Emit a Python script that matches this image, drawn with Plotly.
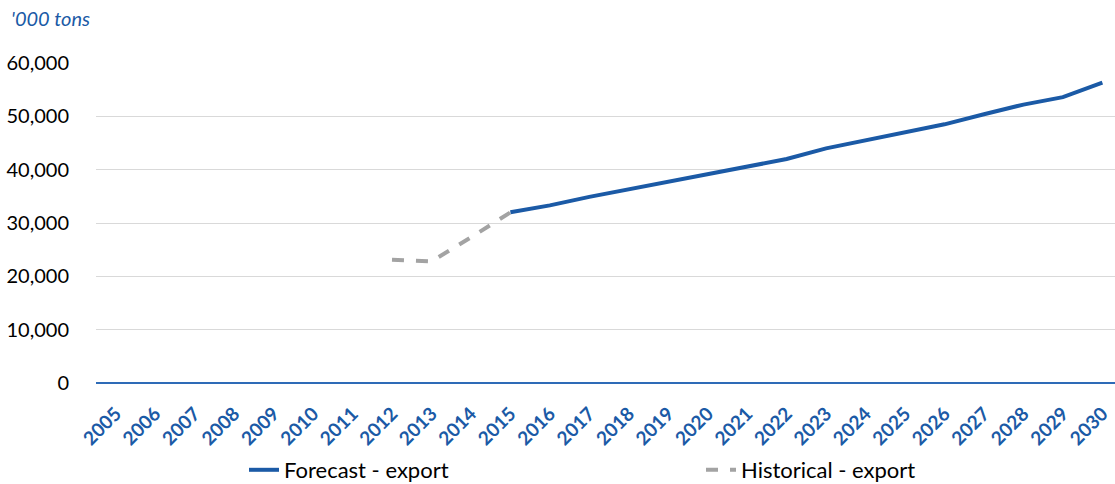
import plotly.graph_objects as go

years = [str(y) for y in range(2005, 2031)]

hist_years = ["2012", "2013", "2014", "2015"]
hist_export = [23100, 22800, 27300, 32000]

fc_years = [str(y) for y in range(2015, 2031)]
fc_export = [32000, 33300, 34900, 36300, 37700, 39100, 40500, 42000, 44000,
             45500, 47000, 48500, 50400, 52200, 53600, 56300]

y_ticks = [0, 10000, 20000, 30000, 40000, 50000, 60000]

BLUE = "#1B5AA6"
AXIS_BLUE = "#2E6BB7"
GREY = "#A3A3A3"
FONT = "Lato, Carlito, Calibri, sans-serif"

W, H = 1115, 484
PLOT_L = 96
PLOT_B = 383

fig = go.Figure()
fig.add_trace(go.Scatter(
    x=fc_years, y=fc_export, mode="lines", name="Forecast - export",
    line=dict(color=BLUE, width=4), legend="legend",
))
fig.add_trace(go.Scatter(
    x=hist_years, y=hist_export, mode="lines", name="Historical - export",
    line=dict(color=GREY, width=4, dash="dash"), legend="legend2",
))

legend_style = dict(
    orientation="h", xanchor="left", yanchor="middle",
    xref="container", yref="container", y=1 - 470 / H,
    font=dict(family=FONT, size=22, color="#000000"),
    bgcolor="rgba(0,0,0,0)",
)

fig.update_layout(
    width=W, height=H,
    margin=dict(l=PLOT_L, r=0, t=63, b=H - PLOT_B),
    paper_bgcolor="white", plot_bgcolor="white",
    font=dict(family=FONT, size=19, color="#000000"),
    title=dict(
        text="<i>'000 tons</i>", font=dict(family=FONT, size=20, color=BLUE),
        xref="container", yref="container", x=11 / W, y=1 - 19 / H,
        xanchor="left", yanchor="middle",
    ),
    showlegend=True,
    legend=dict(legend_style, x=244 / W),
    legend2=dict(legend_style, x=701 / W),
    xaxis=dict(
        type="category", categoryorder="array", categoryarray=years,
        tickvals=years, ticktext=years,
        range=[-0.5, 25.32], tickangle=-45, automargin=False,
        ticklabelstandoff=15,
        tickfont=dict(family=FONT, size=19, color=BLUE, weight="bold"),
        showgrid=False, showline=False, ticks="", zeroline=False,
    ),
    yaxis=dict(
        range=[0, 60000], tickvals=y_ticks, tickformat=",d", automargin=False,
        showgrid=True, gridcolor="#D9D9D9", gridwidth=1.3,
        zeroline=True, zerolinecolor=AXIS_BLUE, zerolinewidth=1.5,
        showline=False, ticks="", ticklabelstandoff=26,
        tickfont=dict(family=FONT, size=20, color="#000000"),
    ),
)

fig.write_html("out.html", config={"displayModeBar": False})
